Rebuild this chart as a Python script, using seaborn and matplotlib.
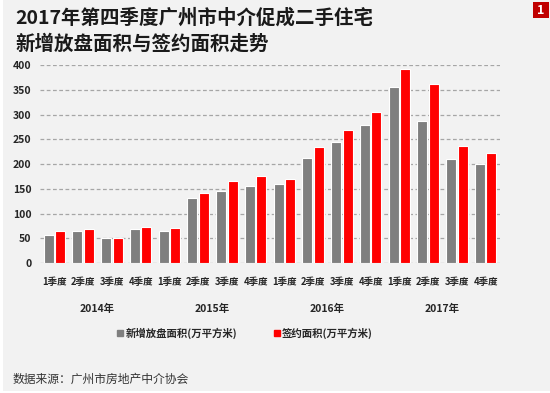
import numpy as np
import pandas as pd
import matplotlib
matplotlib.use("Agg")
import matplotlib.pyplot as plt
from matplotlib.patches import Rectangle
import seaborn as sns

OUTPUT_FILE = "out.png"

YEARS = ["2014年", "2015年", "2016年", "2017年"]
QUARTERS = ["1季度", "2季度", "3季度", "4季度"]
SERIES = ["新增放盘面积(万平方米)", "签约面积(万平方米)"]

# 2014Q1 .. 2017Q4
NEW_LISTING = [57, 64, 50, 69, 64, 131, 146, 156, 159, 213, 245, 279, 356, 286, 210, 201]
SIGNED      = [64, 69, 50, 72, 71, 142, 165, 176, 170, 234, 269, 305, 392, 361, 237, 222]

BG = "#f2f2f2"
COLORS = {SERIES[0]: "#7f7f7f", SERIES[1]: "#ff0000"}

sns.set_theme(style="white")
plt.rcParams["font.family"] = ["Noto Sans CJK SC", "DejaVu Sans"]

cats = [f"{y}{q}" for y in YEARS for q in QUARTERS]
df = pd.DataFrame({
    "cat": cats * 2,
    "series": [SERIES[0]] * len(cats) + [SERIES[1]] * len(cats),
    "value": NEW_LISTING + SIGNED,
})

fig = plt.figure(figsize=(5.5, 3.93), dpi=100)
fig.patch.set_facecolor("white")
fig.patches.append(Rectangle((3 / 550, 2 / 393), 1, 1, transform=fig.transFigure,
                             facecolor=BG, edgecolor="none", zorder=-10))

ax = fig.add_axes([40 / 550, 1 - 263 / 393, 460 / 550, 198 / 393])
ax.set_facecolor(BG)

sns.barplot(data=df, x="cat", y="value", hue="series", order=cats,
            hue_order=SERIES, palette=COLORS, saturation=1, width=0.8, gap=0.12,
            edgecolor="white", linewidth=0.8, legend=False, ax=ax)

ax.set_ylim(0, 400)
ax.set_xlim(-0.5, len(cats) - 0.5)
ax.set_yticks(range(0, 401, 50))
ax.yaxis.grid(True, linestyle=(0, (3, 2)), color="#a6a6a6", linewidth=0.9)
ax.set_axisbelow(True)
for s in ax.spines.values():
    s.set_visible(False)
ax.set_xlabel("")
ax.set_ylabel("")
ax.tick_params(axis="y", length=0, pad=6, labelsize=7.5)
for t in ax.get_yticklabels():
    t.set_fontweight("bold")
ax.set_xticks(range(len(cats)))
ax.set_xticklabels(QUARTERS * len(YEARS), fontsize=6.8, fontweight="bold")
ax.tick_params(axis="x", length=0, pad=10)

# year labels under each group of four quarters
for i, y in enumerate(YEARS):
    ax.text(i * 4 + 1.5, -46 / 198, y, ha="center", va="center", fontsize=7.5,
            fontweight="bold", transform=ax.get_xaxis_transform(), clip_on=False)

# legend
handles = [plt.Line2D([], [], marker="s", linestyle="", markersize=4,
                      color=COLORS[s]) for s in SERIES]
fig.legend(handles, SERIES, loc="center", bbox_to_anchor=(245 / 550, 1 - 333 / 393),
           ncol=2, frameon=False, handlelength=0.6, handletextpad=0.2,
           columnspacing=3.5, prop={"size": 7.5, "weight": "bold"})

fig.text(15 / 550, 1 - 31 / 393,
         "2017年第四季度广州市中介促成二手住宅\n新增放盘面积与签约面积走势",
         ha="left", va="center", fontsize=14, fontweight="bold",
         color="#1a1a1a", linespacing=1.4)

fig.text(13 / 550, 1 - 379 / 393, "数据来源：广州市房地产中介协会",
         ha="left", va="center", fontsize=8.5, color="#333333")

# red corner badge
fig.patches.append(Rectangle((533 / 550, 1 - 18 / 393), 16 / 550, 16 / 393,
                             transform=fig.transFigure, facecolor="#c00000",
                             edgecolor="none"))
fig.text(541 / 550, 1 - 10 / 393, "1", ha="center", va="center",
         fontsize=9, fontweight="bold", color="white")

fig.savefig(OUTPUT_FILE, dpi=100, facecolor=fig.get_facecolor())
